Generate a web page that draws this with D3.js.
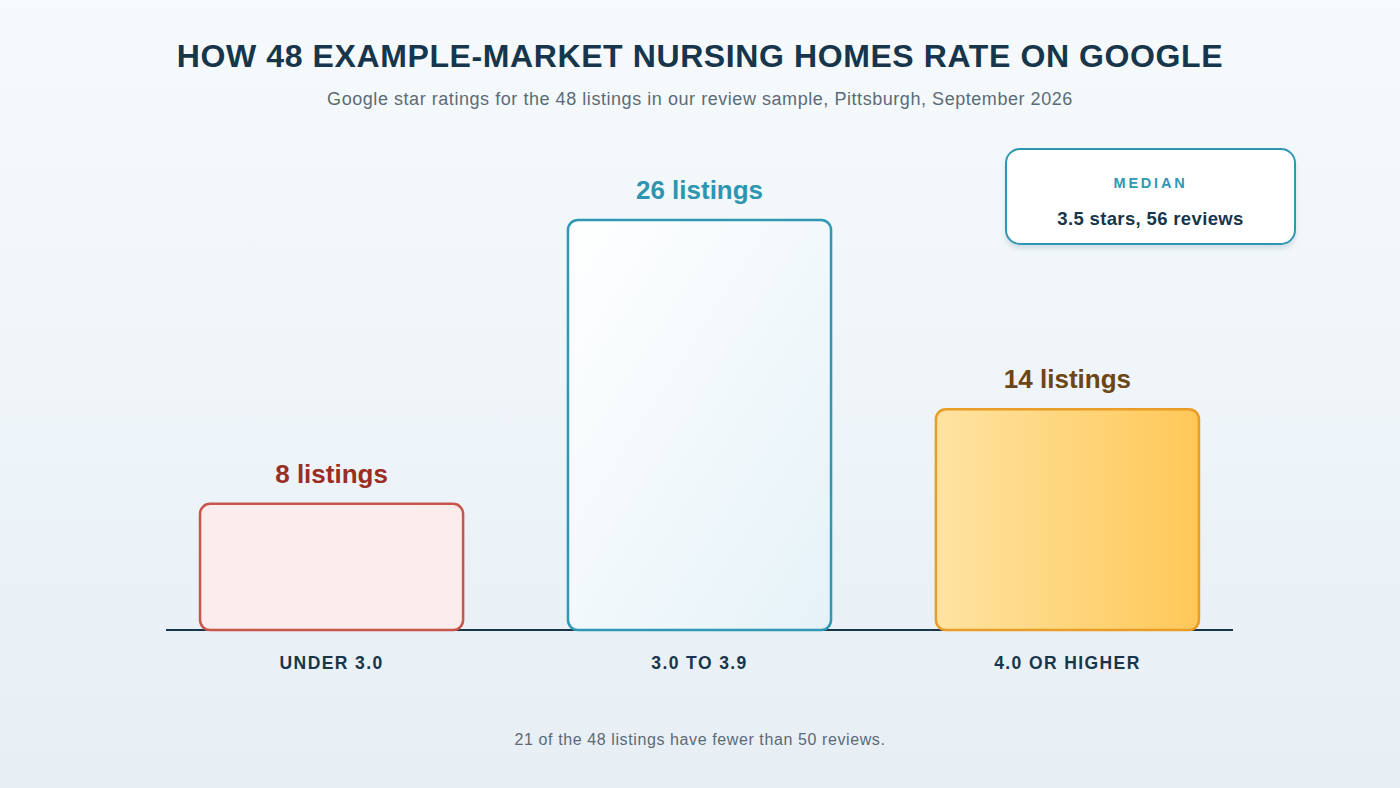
<!DOCTYPE html>
<html>
<head>
<meta charset="utf-8">
<script src="https://cdn.jsdelivr.net/npm/d3@7"></script>
<style>
  html, body { margin: 0; padding: 0; }
  body { width: 1400px; height: 788px; overflow: hidden; font-family: "Liberation Sans", Arial, Helvetica, sans-serif; }
</style>
</head>
<body>
<div id="chart"></div>
<script>
// chart data
const categories = ['UNDER 3.0', '3.0 TO 3.9', '4.0 OR HIGHER'];
const listings = [8, 26, 14];
const barLabels = ['8 listings', '26 listings', '14 listings'];
const medianTitle = 'MEDIAN';
const medianText = '3.5 stars, 56 reviews';
const titleText = 'HOW 48 EXAMPLE-MARKET NURSING HOMES RATE ON GOOGLE';
const subtitleText = 'Google star ratings for the 48 listings in our review sample, Pittsburgh, September 2026';
const noteText = '21 of the 48 listings have fewer than 50 reviews.';

// per-bar styling
const barFills = ['url(#gradRed)', 'url(#gradBlue)', 'url(#gradGold)'];
const barStrokes = ['#c9564a', '#2f98b4', '#e99c26'];
const labelColors = ['#9a2e24', '#2e95b1', '#6c4613'];

let svgWidth = 1400;
let svgHeight = 788;

// plot area
let margin = { top: 220, right: 167, bottom: 158, left: 166 };
let width = svgWidth - margin.left - margin.right;
let height = svgHeight - margin.top - margin.bottom;

let svg = d3.select('#chart').append('svg')
  .attr('width', svgWidth)
  .attr('height', svgHeight);

// gradients
let defs = svg.append('defs');

let bg = defs.append('linearGradient').attr('id', 'bgGrad')
  .attr('x1', 0).attr('y1', 0).attr('x2', 0).attr('y2', 1);
bg.append('stop').attr('offset', '0%').attr('stop-color', '#f6fafc');
bg.append('stop').attr('offset', '100%').attr('stop-color', '#e7eff5');

let gRed = defs.append('linearGradient').attr('id', 'gradRed');
gRed.append('stop').attr('offset', '0%').attr('stop-color', '#fdeced');
gRed.append('stop').attr('offset', '100%').attr('stop-color', '#fcecec');

let gBlue = defs.append('linearGradient').attr('id', 'gradBlue')
  .attr('x1', 0).attr('y1', 0).attr('x2', 1).attr('y2', 1);
gBlue.append('stop').attr('offset', '0%').attr('stop-color', '#ffffff');
gBlue.append('stop').attr('offset', '100%').attr('stop-color', '#e5f2f8');

let gGold = defs.append('linearGradient').attr('id', 'gradGold');
gGold.append('stop').attr('offset', '0%').attr('stop-color', '#ffe3a2');
gGold.append('stop').attr('offset', '100%').attr('stop-color', '#ffc858');

let shadow = defs.append('filter').attr('id', 'boxShadow')
  .attr('x', '-10%').attr('y', '-10%').attr('width', '120%').attr('height', '140%');
shadow.append('feDropShadow')
  .attr('dx', 0).attr('dy', 4).attr('stdDeviation', 2)
  .attr('flood-color', '#9fb3c2').attr('flood-opacity', 0.35);

svg.append('rect')
  .attr('width', svgWidth).attr('height', svgHeight)
  .attr('fill', 'url(#bgGrad)');

// title + subtitle
svg.append('text')
  .attr('x', svgWidth / 2).attr('y', 67)
  .attr('text-anchor', 'middle')
  .attr('font-size', 32).attr('font-weight', 'bold')
  .attr('letter-spacing', 0.6)
  .attr('fill', '#17364b')
  .text(titleText);

svg.append('text')
  .attr('x', svgWidth / 2).attr('y', 105)
  .attr('text-anchor', 'middle')
  .attr('font-size', 18)
  .attr('letter-spacing', 0.55)
  .attr('fill', '#5b6b77')
  .text(subtitleText);

let chartGroup = svg.append('g')
  .attr('transform', `translate(${margin.left}, ${margin.top})`);

// scales
let xScale = d3.scaleBand()
  .domain(categories)
  .range([0, width])
  .paddingInner(0.285)
  .paddingOuter(0.0925);

let yScale = d3.scaleLinear()
  .domain([0, d3.max(listings)])
  .range([height, 0]);

// baseline
chartGroup.append('line')
  .attr('x1', 0).attr('x2', width)
  .attr('y1', height).attr('y2', height)
  .attr('stroke', '#17364b')
  .attr('stroke-width', 2);

// bars
chartGroup.selectAll('rect.bar')
  .data(listings)
  .enter()
  .append('rect')
  .classed('bar', true)
  .attr('x', (d, i) => xScale(categories[i]))
  .attr('y', d => yScale(d))
  .attr('width', xScale.bandwidth())
  .attr('height', d => height - yScale(d))
  .attr('rx', 10).attr('ry', 10)
  .attr('fill', (d, i) => barFills[i])
  .attr('stroke', (d, i) => barStrokes[i])
  .attr('stroke-width', 2.5);

// value labels
chartGroup.selectAll('text.value')
  .data(listings)
  .enter()
  .append('text')
  .classed('value', true)
  .attr('x', (d, i) => xScale(categories[i]) + xScale.bandwidth() / 2)
  .attr('y', d => yScale(d) - 21)
  .attr('text-anchor', 'middle')
  .attr('font-size', 26).attr('font-weight', 'bold')
  .attr('fill', (d, i) => labelColors[i])
  .text((d, i) => barLabels[i]);

// category labels
let xAxis = d3.axisBottom(xScale).tickSize(0).tickPadding(0);
let axisG = chartGroup.append('g')
  .attr('transform', `translate(0, ${height})`)
  .call(xAxis);
axisG.select('.domain').remove();
axisG.selectAll('text')
  .attr('y', 39)
  .attr('dy', 0)
  .attr('font-family', '"Liberation Sans", Arial, sans-serif')
  .attr('font-size', 17.5).attr('font-weight', 'bold')
  .attr('letter-spacing', 1.4)
  .attr('fill', '#17364b');

// median box
let medianG = svg.append('g').attr('transform', 'translate(1006, 149)');
medianG.append('rect')
  .attr('width', 289).attr('height', 95)
  .attr('rx', 14).attr('ry', 14)
  .attr('fill', '#ffffff')
  .attr('stroke', '#2f98b4')
  .attr('stroke-width', 2)
  .attr('filter', 'url(#boxShadow)');
medianG.append('text')
  .attr('x', 144.5).attr('y', 39)
  .attr('text-anchor', 'middle')
  .attr('font-size', 14.5).attr('font-weight', 'bold')
  .attr('letter-spacing', 2.8)
  .attr('fill', '#2f98b4')
  .text(medianTitle);
medianG.append('text')
  .attr('x', 144.5).attr('y', 76)
  .attr('text-anchor', 'middle')
  .attr('font-size', 18.5).attr('font-weight', 'bold')
  .attr('letter-spacing', 0.35)
  .attr('fill', '#17364b')
  .text(medianText);

// footnote
svg.append('text')
  .attr('x', svgWidth / 2).attr('y', 745)
  .attr('text-anchor', 'middle')
  .attr('font-size', 16)
  .attr('letter-spacing', 0.6)
  .attr('fill', '#5b6a76')
  .text(noteText);
</script>
</body>
</html>
